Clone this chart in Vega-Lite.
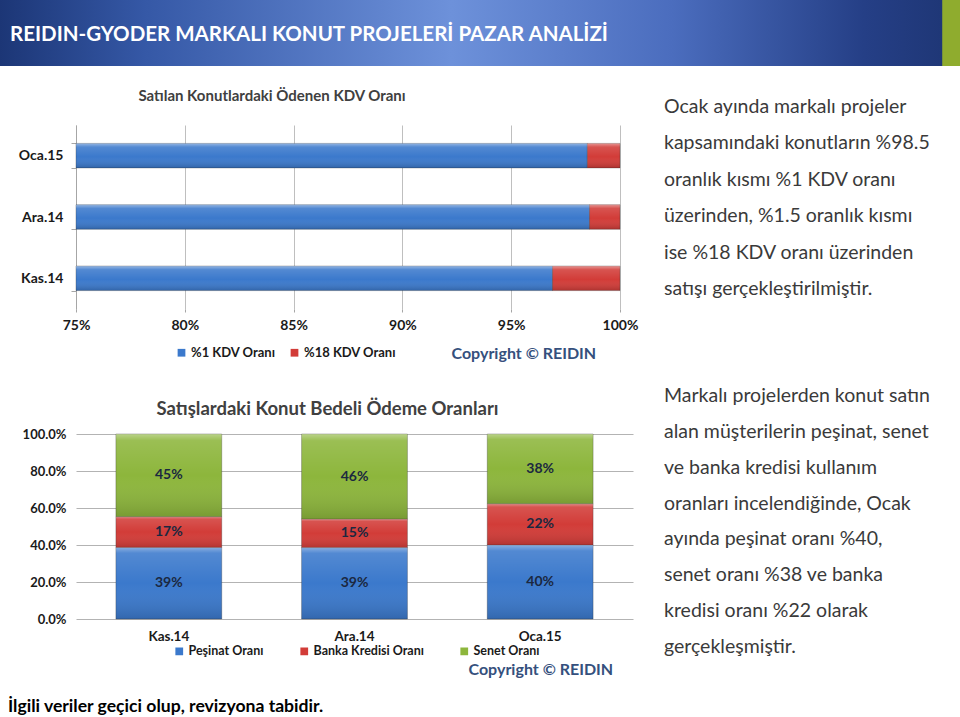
{
  "$schema": "https://vega.github.io/schema/vega-lite/v6.json",
  "padding": 0,
  "background": "white",
  "config": {
    "font": "Lato",
    "view": {"stroke": null},
    "axis": {"labelFont": "Lato", "titleFont": "Lato"},
    "legend": {"labelFont": "Lato"}
  },
  "datasets": {
    "kdv": [
      {"ay": "Kas.14", "tip": "%1 KDV Oranı", "oran": 0.969},
      {"ay": "Kas.14", "tip": "%18 KDV Oranı", "oran": 0.031},
      {"ay": "Ara.14", "tip": "%1 KDV Oranı", "oran": 0.986},
      {"ay": "Ara.14", "tip": "%18 KDV Oranı", "oran": 0.014},
      {"ay": "Oca.15", "tip": "%1 KDV Oranı", "oran": 0.985},
      {"ay": "Oca.15", "tip": "%18 KDV Oranı", "oran": 0.015}
    ],
    "odeme": [
      {"ay": "Kas.14", "tip": "Peşinat Oranı", "sira": 1, "oran": 0.387},
      {"ay": "Kas.14", "tip": "Banka Kredisi Oranı", "sira": 2, "oran": 0.166},
      {"ay": "Kas.14", "tip": "Senet Oranı", "sira": 3, "oran": 0.447},
      {"ay": "Ara.14", "tip": "Peşinat Oranı", "sira": 1, "oran": 0.386},
      {"ay": "Ara.14", "tip": "Banka Kredisi Oranı", "sira": 2, "oran": 0.154},
      {"ay": "Ara.14", "tip": "Senet Oranı", "sira": 3, "oran": 0.46},
      {"ay": "Oca.15", "tip": "Peşinat Oranı", "sira": 1, "oran": 0.4},
      {"ay": "Oca.15", "tip": "Banka Kredisi Oranı", "sira": 2, "oran": 0.223},
      {"ay": "Oca.15", "tip": "Senet Oranı", "sira": 3, "oran": 0.377}
    ],
    "metin1": [
      {"satir": "Ocak ayında markalı projeler"},
      {"satir": "kapsamındaki konutların %98.5"},
      {"satir": "oranlık kısmı %1 KDV oranı"},
      {"satir": "üzerinden, %1.5 oranlık kısmı"},
      {"satir": "ise %18 KDV oranı üzerinden"},
      {"satir": "satışı gerçekleştirilmiştir."}
    ],
    "metin2": [
      {"satir": "Markalı projelerden konut satın"},
      {"satir": "alan müşterilerin peşinat, senet"},
      {"satir": "ve banka kredisi kullanım"},
      {"satir": "oranları incelendiğinde, Ocak"},
      {"satir": "ayında peşinat oranı %40,"},
      {"satir": "senet oranı %38 ve banka"},
      {"satir": "kredisi oranı %22 olarak"},
      {"satir": "gerçekleşmiştir."}
    ],
    "baslik": [{"metin": "REIDIN-GYODER MARKALI KONUT PROJELERİ PAZAR ANALİZİ"}]
  },
  "title": {
    "text": "İlgili veriler geçici olup, revizyona tabidir.",
    "orient": "bottom",
    "anchor": "start",
    "frame": "bounds",
    "dx": 8,
    "offset": 21,
    "fontSize": 17.6,
    "fontWeight": "bold",
    "color": "#000000"
  },
  "spacing": 23,
  "vconcat": [
    {
      "width": 960,
      "height": 66,
      "data": {"name": "baslik"},
      "mark": {
        "type": "rect",
        "color": {
          "gradient": "linear",
          "x1": 0, "y1": 0, "x2": 1, "y2": 0,
          "stops": [
            {"offset": 0, "color": "#1c3676"},
            {"offset": 0.15, "color": "#3558a6"},
            {"offset": 0.47, "color": "#6d91da"},
            {"offset": 0.7, "color": "#4b6dbe"},
            {"offset": 0.9, "color": "#253f86"},
            {"offset": 0.981, "color": "#1f3777"},
            {"offset": 0.982, "color": "#8fac2e"},
            {"offset": 1, "color": "#8fac2e"}
          ]
        }
      },
      "title": {
        "text": "REIDIN-GYODER MARKALI KONUT PROJELERİ PAZAR ANALİZİ",
        "anchor": "start",
        "frame": "group",
        "offset": -45,
        "dx": 10,
        "fontSize": 20.5,
        "fontWeight": "bold",
        "color": "#ffffff"
      }
    },
    {
      "spacing": 26,
      "hconcat": [
        {
          "spacing": 0,
          "hconcat": [
            {
              "width": 18,
              "height": 10,
              "data": {"values": [{}]},
              "mark": {"type": "rect", "opacity": 0}
            },
            {
              "spacing": 38,
              "resolve": {"scale": {"color": "independent"}, "legend": {"color": "independent"}},
              "vconcat": [
                {
                  "width": 544,
                  "height": 184,
                  "data": {"name": "kdv"},
                  "title": {
                    "text": "Satılan Konutlardaki Ödenen KDV Oranı",
                    "anchor": "middle",
                    "frame": "group",
                    "dx": -76,
                    "offset": 14,
                    "fontSize": 15,
                    "fontWeight": "bold",
                    "color": "#404040"
                  },
                  "encoding": {
                    "y": {
                      "field": "ay",
                      "type": "nominal",
                      "sort": ["Oca.15", "Ara.14", "Kas.14"],
                      "scale": {"paddingInner": 0.6, "paddingOuter": 0.3},
                      "axis": {
                        "title": null,
                        "tickBand": "extent",
                        "tickSize": 5,
                        "tickColor": "#a6a6a6",
                        "domainColor": "#a6a6a6",
                        "labelFontSize": 14,
                        "labelFontWeight": "bold",
                        "labelColor": "#1a1a1a",
                        "labelPadding": 8
                      }
                    },
                    "x": {
                      "field": "oran",
                      "type": "quantitative",
                      "stack": "zero",
                      "scale": {"domain": [0.75, 1], "clamp": true, "zero": false},
                      "axis": {
                        "values": [0.75, 0.8, 0.85, 0.9, 0.95, 1],
                        "format": ".0%",
                        "grid": true,
                        "gridColor": "#bfbfbf",
                        "domain": false,
                        "tickColor": "#a6a6a6",
                        "tickSize": 3,
                        "labelFontSize": 14,
                        "labelFontWeight": "bold",
                        "labelColor": "#1a1a1a",
                        "labelPadding": 6,
                        "labelFlush": false,
                        "title": "Copyright © REIDIN",
                        "titleX": 375,
                        "titleY": 44,
                        "titleAlign": "left",
                        "titleAnchor": null,
                        "titleBaseline": "middle",
                        "titleFontSize": 16,
                        "titleFontWeight": "bold",
                        "titleColor": "#35507d"
                      }
                    }
                  },
                  "layer": [
                    {
                      "mark": {"type": "bar", "stroke": "#2b2b2b", "strokeOpacity": 0.3, "strokeWidth": 1},
                      "encoding": {
                        "color": {
                          "field": "tip",
                          "type": "nominal",
                          "scale": {
                            "domain": ["%1 KDV Oranı", "%18 KDV Oranı"],
                            "range": ["#3b79cc", "#d23c38"]
                          },
                          "legend": {
                            "orient": "none",
                            "legendX": 99,
                            "legendY": 221,
                            "direction": "horizontal",
                            "title": null,
                            "symbolType": "square",
                            "symbolSize": 60,
                            "symbolStrokeWidth": 0,
                            "labelFontSize": 13,
                            "labelFontWeight": "bold",
                            "labelColor": "#1a1a1a",
                            "labelOffset": 3,
                            "columnPadding": 12
                          }
                        }
                      }
                    },
                    {
                      "mark": {
                        "type": "bar",
                        "color": {
                          "gradient": "linear",
                          "x1": 0, "y1": 0, "x2": 0, "y2": 1,
                          "stops": [
                            {"offset": 0, "color": "rgba(255,255,255,0.45)"},
                            {"offset": 0.15, "color": "rgba(255,255,255,0.12)"},
                            {"offset": 0.55, "color": "rgba(255,255,255,0)"},
                            {"offset": 1, "color": "rgba(0,0,0,0.18)"}
                          ]
                        }
                      },
                      "encoding": {
                        "detail": {"field": "tip", "type": "nominal"}
                      }
                    }
                  ]
                },
                {
                  "width": 557,
                  "height": 185,
                  "data": {"name": "odeme"},
                  "title": {
                    "text": "Satışlardaki Konut Bedeli Ödeme Oranları",
                    "anchor": "middle",
                    "frame": "group",
                    "dx": -27,
                    "offset": 10,
                    "fontSize": 18.5,
                    "fontWeight": "bold",
                    "color": "#404040"
                  },
                  "encoding": {
                    "x": {
                      "field": "ay",
                      "type": "nominal",
                      "sort": ["Kas.14", "Ara.14", "Oca.15"],
                      "scale": {"paddingInner": 0.43, "paddingOuter": 0.215},
                      "axis": {
                        "labelAngle": 0,
                        "domain": false,
                        "ticks": false,
                        "labelFontSize": 13.5,
                        "labelFontWeight": "bold",
                        "labelColor": "#1a1a1a",
                        "labelPadding": 10,
                        "title": "Copyright © REIDIN",
                        "titleX": 392,
                        "titleY": 50,
                        "titleAlign": "left",
                        "titleAnchor": null,
                        "titleBaseline": "middle",
                        "titleFontSize": 16,
                        "titleFontWeight": "bold",
                        "titleColor": "#35507d"
                      }
                    },
                    "y": {
                      "field": "oran",
                      "type": "quantitative",
                      "stack": "zero",
                      "scale": {"domain": [0, 1]},
                      "axis": {
                        "title": null,
                        "values": [0, 0.2, 0.4, 0.6, 0.8, 1],
                        "format": ".1%",
                        "grid": true,
                        "gridColor": "#b3b3b3",
                        "domain": false,
                        "ticks": false,
                        "labelFontSize": 13,
                        "labelFontWeight": "bold",
                        "labelColor": "#1a1a1a",
                        "labelPadding": 10
                      }
                    },
                    "order": {"field": "sira", "type": "quantitative"}
                  },
                  "layer": [
                    {
                      "mark": {"type": "bar", "stroke": "#2b2b2b", "strokeOpacity": 0.3, "strokeWidth": 1},
                      "encoding": {
                        "color": {
                          "field": "tip",
                          "type": "nominal",
                          "scale": {
                            "domain": ["Peşinat Oranı", "Banka Kredisi Oranı", "Senet Oranı"],
                            "range": ["#3b79cc", "#d23c38", "#8db63c"]
                          },
                          "legend": {
                            "orient": "none",
                            "legendX": 97,
                            "legendY": 211,
                            "direction": "horizontal",
                            "title": null,
                            "symbolType": "square",
                            "symbolSize": 60,
                            "symbolStrokeWidth": 0,
                            "labelFontSize": 12.5,
                            "labelFontWeight": "bold",
                            "labelColor": "#1a1a1a",
                            "labelOffset": 3,
                            "columnPadding": 34
                          }
                        }
                      }
                    },
                    {
                      "mark": {
                        "type": "bar",
                        "color": {
                          "gradient": "linear",
                          "x1": 0, "y1": 0, "x2": 0, "y2": 1,
                          "stops": [
                            {"offset": 0, "color": "rgba(255,255,255,0.4)"},
                            {"offset": 0.08, "color": "rgba(255,255,255,0.12)"},
                            {"offset": 0.5, "color": "rgba(255,255,255,0)"},
                            {"offset": 1, "color": "rgba(0,0,0,0.15)"}
                          ]
                        }
                      },
                      "encoding": {
                        "detail": {"field": "tip", "type": "nominal"}
                      }
                    },
                    {
                      "mark": {"type": "text", "fontSize": 14, "fontWeight": "bold", "color": "#1b2840", "baseline": "middle"},
                      "encoding": {
                        "y": {"field": "oran", "type": "quantitative", "stack": "zero", "bandPosition": 0.5},
                        "detail": {"field": "tip", "type": "nominal"},
                        "text": {"field": "oran", "type": "quantitative", "format": ".0%"}
                      }
                    }
                  ]
                }
              ]
            }
          ]
        },
        {
          "spacing": 79,
          "vconcat": [
            {
              "width": 272,
              "height": 182,
              "data": {"name": "metin1"},
              "mark": {"type": "text", "align": "left", "baseline": "middle", "fontSize": 19.5, "color": "#3a3a3a", "dy": -18},
              "encoding": {
                "x": {"value": 0},
                "y": {"field": "satir", "type": "ordinal", "sort": null, "scale": {"type": "point", "padding": 0}, "axis": null},
                "text": {"field": "satir"}
              }
            },
            {
              "width": 272,
              "height": 251,
              "data": {"name": "metin2"},
              "mark": {"type": "text", "align": "left", "baseline": "middle", "fontSize": 19.5, "color": "#3a3a3a", "dy": -18},
              "encoding": {
                "x": {"value": 0},
                "y": {"field": "satir", "type": "ordinal", "sort": null, "scale": {"type": "point", "padding": 0}, "axis": null},
                "text": {"field": "satir"}
              }
            }
          ]
        }
      ]
    }
  ]
}
